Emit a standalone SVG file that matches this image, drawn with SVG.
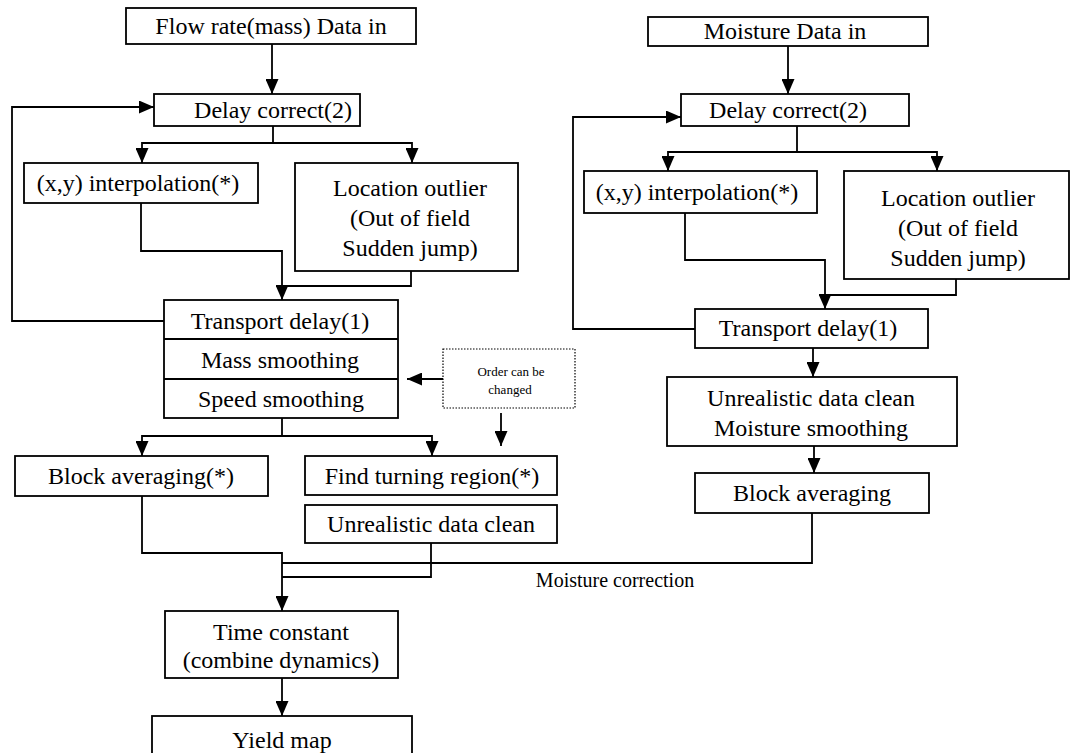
<svg xmlns="http://www.w3.org/2000/svg" width="1071" height="753" viewBox="0 0 1071 753">
<style>
.b{fill:#fff;stroke:#000;stroke-width:1.8}
.d{fill:#fff;stroke:#000;stroke-width:1.2;stroke-dasharray:1.5,1.5}
.t{font-family:"Liberation Serif","Times New Roman",serif;font-size:24px;fill:#000;text-anchor:middle}
.s{font-family:"Liberation Serif","Times New Roman",serif;font-size:13px;fill:#000;text-anchor:middle}
.m{font-family:"Liberation Serif","Times New Roman",serif;font-size:20px;fill:#000;text-anchor:middle}
.c{fill:none;stroke:#000;stroke-width:1.8}
.a{fill:none;stroke:#000;stroke-width:1.8;marker-end:url(#ah)}
</style>
<defs>
<marker id="ah" markerWidth="15" markerHeight="13" refX="15" refY="6.5" orient="auto" markerUnits="userSpaceOnUse"><path d="M0,0 L15,6.5 L0,13 z" fill="#000"/></marker>
</defs>
<rect width="1071" height="753" fill="#fff"/>
<g id="connectors">
<path class="a" d="M272,44 V94"/>
<path class="a" d="M273,126 V143 H142 V163"/>
<path class="a" d="M273,143 H412 V163"/>
<path class="a" d="M141,203 V251 H282 V300"/>
<path class="c" d="M411,271 V286 H282"/>
<path class="a" d="M164,321 H12 V107 H154"/>
<path class="a" d="M443,379 H407"/>
<path class="a" d="M501,413 V446"/>
<path class="a" d="M282,418 V436 H142 V456"/>
<path class="a" d="M282,436 H432 V456"/>
<path class="a" d="M142,496 V553 H282 V611"/>
<path class="c" d="M431,543 V577 H282"/>
<path class="c" d="M812,513 V563 H282"/>
<path class="a" d="M282,678 V716"/>
<path class="a" d="M788,46 V94"/>
<path class="a" d="M797,126 V152 H668 V171"/>
<path class="a" d="M797,152 H937 V171"/>
<path class="a" d="M685,213 V260 H825 V309"/>
<path class="c" d="M956,279 V295 H825"/>
<path class="a" d="M695,329 H573 V117 H681"/>
<path class="a" d="M813,348 V377"/>
<path class="a" d="M814,446 V473"/>
<text class="m" x="615" y="580" dy=".35em">Moisture correction</text>
</g>
<g id="flow-in"><rect class="b" x="126" y="8" width="290" height="36"/><text class="t" x="271" y="26" dy=".35em">Flow rate(mass) Data in</text></g>
<g id="delay-l"><rect class="b" x="154" y="94" width="206" height="32"/><text class="t" x="273" y="110" dy=".35em">Delay correct(2)</text></g>
<g id="interp-l"><rect class="b" x="24" y="163" width="234" height="40"/><text class="t" x="138" y="183" dy=".35em">(x,y) interpolation(*)</text></g>
<g id="outlier-l"><rect class="b" x="295" y="163" width="223" height="108"/><text class="t" x="410" y="188" dy=".35em">Location outlier</text><text class="t" x="410" y="218" dy=".35em">(Out of field</text><text class="t" x="410" y="248" dy=".35em">Sudden jump)</text></g>
<g id="stack-l"><rect class="b" x="164" y="300" width="234" height="118"/><path class="c" d="M164,339 H398 M164,379 H398"/><text class="t" x="280" y="321" dy=".35em">Transport delay(1)</text><text class="t" x="280" y="360" dy=".35em">Mass smoothing</text><text class="t" x="281" y="399" dy=".35em">Speed smoothing</text></g>
<g id="order-note"><rect class="d" x="443" y="349" width="132" height="59"/><text class="s" x="511" y="371" dy=".35em">Order can be</text><text class="s" x="510" y="389" dy=".35em">changed</text></g>
<g id="block-l"><rect class="b" x="15" y="456" width="253" height="40"/><text class="t" x="141" y="476" dy=".35em">Block averaging(*)</text></g>
<g id="turning"><rect class="b" x="305" y="456" width="252" height="39"/><text class="t" x="432" y="476" dy=".35em">Find turning region(*)</text></g>
<g id="clean-l"><rect class="b" x="305" y="505" width="252" height="38"/><text class="t" x="431" y="524" dy=".35em">Unrealistic data clean</text></g>
<g id="time-const"><rect class="b" x="165" y="611" width="233" height="67"/><text class="t" x="281" y="632" dy=".35em">Time constant</text><text class="t" x="281" y="660" dy=".35em">(combine dynamics)</text></g>
<g id="yield-map"><rect class="b" x="152" y="716" width="260" height="60"/><text class="t" x="282" y="740" dy=".35em">Yield map</text></g>
<g id="moist-in"><rect class="b" x="648" y="17" width="280" height="29"/><text class="t" x="785" y="31" dy=".35em">Moisture Data in</text></g>
<g id="delay-r"><rect class="b" x="681" y="94" width="228" height="32"/><text class="t" x="788" y="110" dy=".35em">Delay correct(2)</text></g>
<g id="interp-r"><rect class="b" x="584" y="171" width="233" height="42"/><text class="t" x="697" y="192" dy=".35em">(x,y) interpolation(*)</text></g>
<g id="outlier-r"><rect class="b" x="844" y="171" width="225" height="108"/><text class="t" x="958" y="198" dy=".35em">Location outlier</text><text class="t" x="958" y="228" dy=".35em">(Out of field</text><text class="t" x="958" y="258" dy=".35em">Sudden jump)</text></g>
<g id="transport-r"><rect class="b" x="695" y="309" width="233" height="39"/><text class="t" x="808" y="328" dy=".35em">Transport delay(1)</text></g>
<g id="clean-r"><rect class="b" x="667" y="377" width="290" height="69"/><text class="t" x="811" y="398" dy=".35em">Unrealistic data clean</text><text class="t" x="811" y="428" dy=".35em">Moisture smoothing</text></g>
<g id="block-r"><rect class="b" x="695" y="473" width="234" height="40"/><text class="t" x="812" y="493" dy=".35em">Block averaging</text></g>
</svg>
